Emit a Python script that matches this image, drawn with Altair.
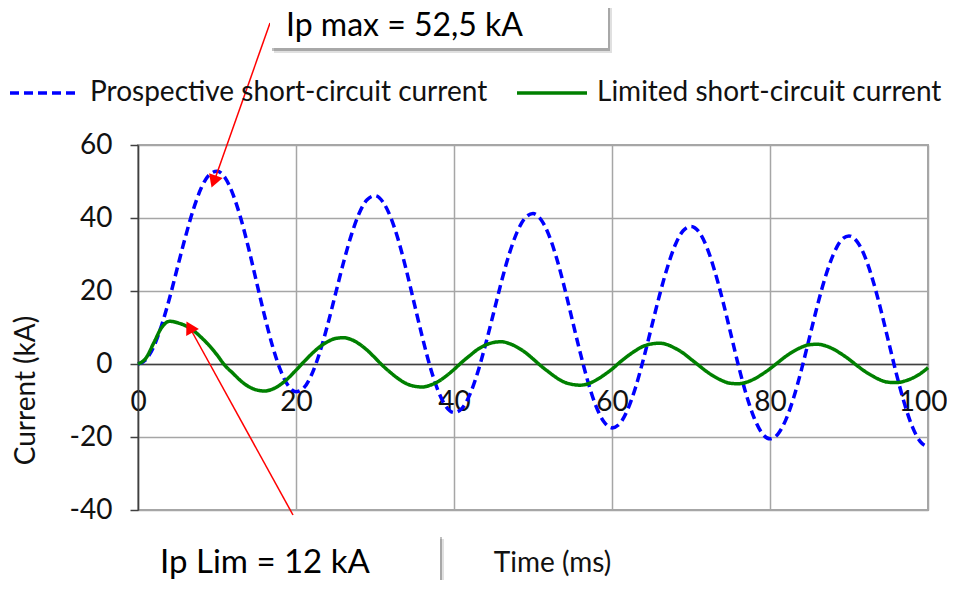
import altair as alt
import pandas as pd

series_names = ["Prospective short-circuit current", "Limited short-circuit current"]
x_ticks = [0, 20, 40, 60, 80, 100]
y_ticks = [-40, -20, 0, 20, 40, 60]

time_ms = list(range(0, 101))
prospective_ka = [0.0, 1.2, 4.8, 10.7, 18.1, 26.5, 34.8, 42.3, 48.2, 51.8,
                  52.8, 51.1, 46.6, 40.0, 31.7, 22.5, 13.4, 5.1, -1.5, -5.9,
                  -7.6, -6.5, -2.8, 3.1, 10.7, 19.2, 27.7, 35.3, 41.3, 45.0,
                  46.1, 44.4, 40.1, 33.6, 25.4, 16.3, 7.3, -0.9, -7.4, -11.7,
                  -13.3, -12.2, -8.4, -2.3, 5.4, 13.9, 22.5, 30.2, 36.2, 40.0,
                  41.2, 39.6, 35.4, 28.9, 20.8, 11.8, 2.9, -5.2, -11.7, -15.9,
                  -17.5, -16.3, -12.4, -6.3, 1.5, 10.1, 18.7, 26.4, 32.6, 36.5,
                  37.7, 36.2, 32.0, 25.5, 17.5, 8.6, -0.4, -8.4, -14.8, -19.0,
                  -20.5, -19.2, -15.3, -9.2, -1.4, 7.3, 16.0, 23.8, 29.9, 33.9,
                  35.1, 33.6, 29.5, 23.1, 15.1, 6.2, -2.7, -10.7, -17.1, -21.2,
                  -22.7]
limited_ka = [0.0, 1.6, 5.8, 10.0, 11.7, 11.3, 10.5, 9.2, 7.3, 5.1,
              2.5, -0.4, -2.5, -4.6, -6.2, -7.1, -7.4, -6.9, -5.7, -3.9,
              -1.7, 0.6, 2.8, 4.7, 6.1, 7.0, 7.2, 6.7, 5.5, 3.8,
              1.7, -0.5, -2.4, -4.1, -5.4, -6.1, -6.3, -5.8, -4.8, -3.3,
              -1.5, 0.5, 2.3, 4.0, 5.2, 5.9, 6.1, 5.6, 4.6, 3.2,
              1.4, -0.5, -2.2, -3.8, -5.0, -5.6, -5.8, -5.4, -4.4, -3.0,
              -1.4, 0.5, 2.2, 3.7, 4.9, 5.5, 5.7, 5.3, 4.3, 3.0,
              1.3, -0.4, -2.1, -3.5, -4.6, -5.3, -5.4, -5.0, -4.1, -2.8,
              -1.3, 0.4, 2.1, 3.5, 4.6, 5.3, 5.4, 5.0, 4.1, 2.8,
              1.3, -0.4, -2.0, -3.3, -4.4, -5.0, -5.1, -4.7, -3.9, -2.7,
              -1.0]

label_max = "Ip max = 52,5 kA"
label_lim = "Ip Lim = 12 kA"

df = pd.DataFrame({
    "time": time_ms + time_ms,
    "current": prospective_ka + limited_ka,
    "series": [series_names[0]] * len(time_ms) + [series_names[1]] * len(time_ms),
})

FONT = "Lato"
color_scale = alt.Scale(domain=series_names, range=["#0000ff", "#008000"])
dash_scale = alt.Scale(domain=series_names, range=[[9, 5], [1, 0]])

x_enc = alt.X("time:Q", scale=alt.Scale(domain=[0, 100], nice=False),
              axis=alt.Axis(values=x_ticks, title="Time (ms)", offset=-146, ticks=False,
                            labelPadding=24, grid=True, domainWidth=1.5, labelFlush=False,
                            labelAlign={"expr": "datum.value == 100 ? 'right' : 'center'"},
                            labelOffset={"expr": "datum.value == 100 ? 19 : 0"},
                            labelExpr="'' + datum.value", titleFontSize=28,
                            titleX=414, titleY=199, titleBaseline="middle", titleAlign="center"))
y_enc = alt.Y("current:Q", scale=alt.Scale(domain=[-40, 60], nice=False),
              axis=alt.Axis(values=y_ticks, title="Current (kA)", tickSize=8, labelPadding=18,
                            grid=True, domainWidth=1.5,
                            labelExpr="'' + datum.value",
                            titleX=-112, titleY=245, titleAngle=270,
                            titleBaseline="middle", titleAlign="center"))

base = alt.Chart(df).encode(
    x=x_enc, y=y_enc,
    color=alt.Color("series:N", scale=color_scale, title=None),
    strokeDash=alt.StrokeDash("series:N", scale=dash_scale, title=None),
)

blue = base.transform_filter(alt.datum.series == series_names[0]).mark_line(
    strokeWidth=3.5, interpolate="monotone")
green = base.transform_filter(alt.datum.series == series_names[1]).mark_line(
    strokeWidth=3.5, interpolate="monotone")

dummy = alt.Data(values=[{"a": 1}])


def rect(x, x2, y, y2, color, opacity=1.0):
    return alt.Chart(dummy).mark_rect(color=color, opacity=opacity).encode(
        x=alt.value(x), x2=alt.value(x2), y=alt.value(y), y2=alt.value(y2))


def text(label, x, y, size=33):
    return alt.Chart(dummy).mark_text(text=label, align="left", baseline="alphabetic",
                                      font=FONT, fontSize=size, color="#000000").encode(
        x=alt.value(x), y=alt.value(y))


def rule(x, y, x2, y2):
    return alt.Chart(dummy).mark_rule(color="#ff0000", strokeWidth=1.5).encode(
        x=alt.value(x), y=alt.value(y), x2=alt.value(x2), y2=alt.value(y2))


def head(x, y, angle):
    return alt.Chart(dummy).mark_point(shape="triangle-up", filled=True, color="#ff0000",
                                       opacity=1, size=210, angle=angle).encode(
        x=alt.value(x), y=alt.value(y))


box1 = [rect(136, 474, -150, -92, "#000000", 0.12), rect(134, 472, -150, -94, "#000000", 0.25),
        rect(132, 470, -150, -97, "#ffffff"), text(label_max, 148, -109, 32)]
box2 = [rect(10, 306, 394, 446, "#000000", 0.12), rect(8, 304, 392, 444, "#000000", 0.25),
        rect(6, 302, 390, 441, "#ffffff"), text(label_lim, 22, 428)]
arrows = [rule(132, -122, 76.5, 35.2), head(75.7, 36.5, 200),
          rule(155, 370, 52.5, 184.0), head(51.5, 182.0, 331)]

chart = alt.layer(blue, green, *arrows, *box1, *box2).properties(
    width=790, height=365,
    autosize=alt.AutoSizeParams(type="none"),
    padding={"left": 130, "top": 137, "right": 19, "bottom": 70},
).configure_view(
    stroke="#a6a6a6", strokeWidth=2
).configure_axis(
    labelFont=FONT, titleFont=FONT, labelFontSize=28, titleFontSize=28,
    labelColor="#111111", titleColor="#111111", titleFontWeight="normal",
    gridColor="#a6a6a6", gridWidth=1.5, domainColor="#404040", tickColor="#404040",
    tickWidth=1.5,
).configure_legend(
    orient="none", legendX=-130, legendY=-89, direction="horizontal",
    symbolType="stroke", symbolSize=4900, symbolStrokeWidth=3.5,
    labelFont=FONT, labelFontSize=28, labelColor="#111111", labelOffset=8,
    columnPadding=22, labelLimit=600, padding=0,
)

chart.save("out.html", embed_options={"renderer": "svg", "actions": False})
